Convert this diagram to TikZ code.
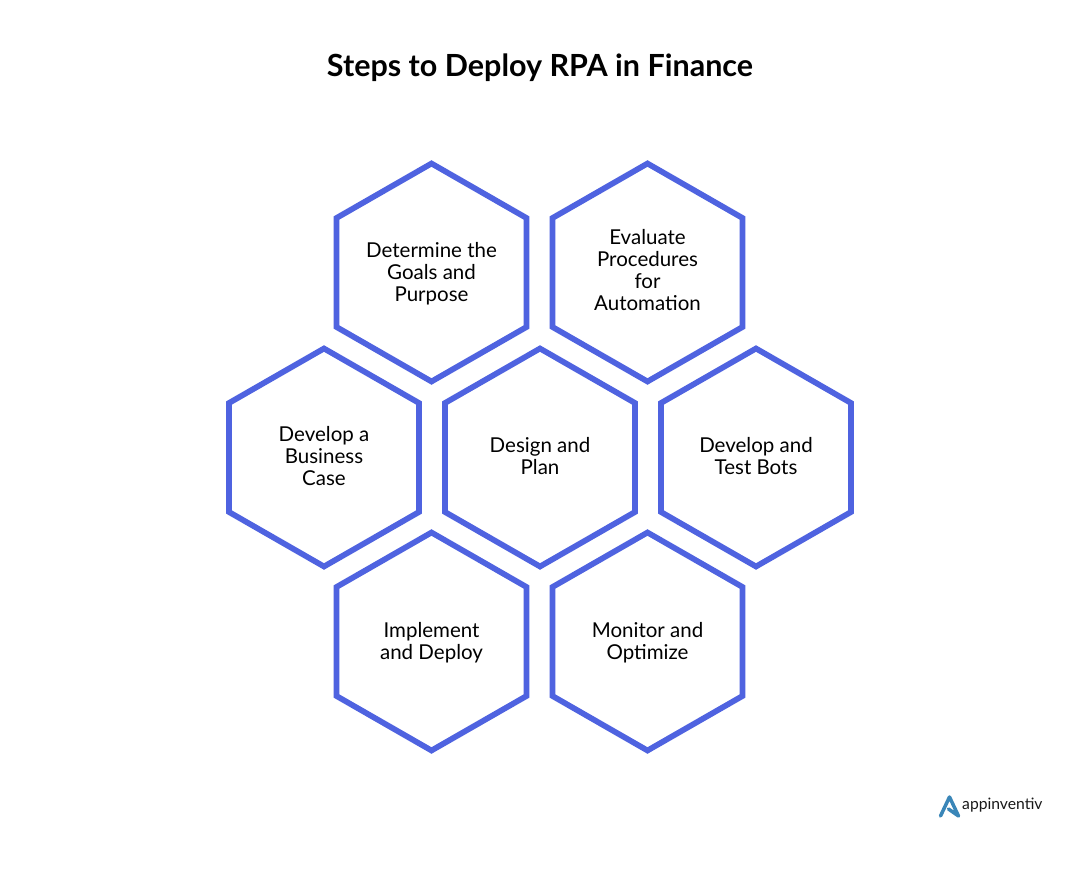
\documentclass[tikz,border=0pt]{standalone}
\usepackage{fontspec}
\setmainfont{Lato}
\newfontfamily\labelfont{Lato}
\newfontfamily\logofont{Lato}
\usetikzlibrary{calc}
\definecolor{hexblue}{HTML}{4F63E0}
\definecolor{logoblue}{HTML}{3A86B8}
\tikzset{
 x=1pt,y=-1pt,
 hexbox/.style={line width=5.7pt,draw=hexblue,fill=white,line join=miter},
 hexlabel/.style={align=center,font=\labelfont\fontsize{20.5pt}{22pt}\selectfont,text=black,inner sep=0pt},
 titlelabel/.style={font=\fontsize{30.5pt}{34pt}\selectfont\bfseries,text=black,inner sep=0pt},
}
\newcommand{\hexat}[1]{
 \path[hexbox] ($(#1)+(0,-109)$) -- ($(#1)+(95,-54.5)$) -- ($(#1)+(95,54.5)$) -- ($(#1)+(0,109)$) -- ($(#1)+(-95,54.5)$) -- ($(#1)+(-95,-54.5)$) -- cycle;
}
\begin{document}
\begin{tikzpicture}
\useasboundingbox (0,0) rectangle (1080,870);
\fill[white] (0,0) rectangle (1080,870);
\node[titlelabel] (title) at (540,68) {Steps to Deploy RPA in Finance};
\coordinate (ca) at (431.5,272.5);
\coordinate (cb) at (647.5,272.5);
\coordinate (cc) at (324,457.5);
\coordinate (cd) at (540,457.5);
\coordinate (ce) at (756,457.5);
\coordinate (cf) at (431.5,641.5);
\coordinate (cg) at (647.5,641.5);
\hexat{ca}\hexat{cb}\hexat{cc}\hexat{cd}\hexat{ce}\hexat{cf}\hexat{cg}
\node[hexlabel] (a) at ($(ca)+(0,1)$) {Determine the\\Goals and\\Purpose};
\node[hexlabel] (b) at ($(cb)+(0,-2)$) {Evaluate\\Procedures\\for\\Automation};
\node[hexlabel] (c) at ($(cc)+(0,-1)$) {Develop a\\Business\\Case};
\node[hexlabel] (d) at ($(cd)+(0,-1)$) {Design and\\Plan};
\node[hexlabel] (e) at ($(ce)+(0,-1)$) {Develop and\\Test Bots};
\node[hexlabel] (f) at ($(cf)+(0,1)$) {Implement\\and Deploy};
\node[hexlabel] (g) at ($(cg)+(0,1)$) {Monitor and\\Optimize};
\draw[logoblue,line width=3.5pt,line join=round,line cap=round] (940.5,816) -- (949.5,797) -- (958.5,816) -- (948.5,809);
\node[anchor=west,inner sep=0pt,font=\logofont\fontsize{15.7pt}{18pt}\selectfont,text=black!90] (logo) at (962,805) {appinventiv};
\end{tikzpicture}
\end{document}
